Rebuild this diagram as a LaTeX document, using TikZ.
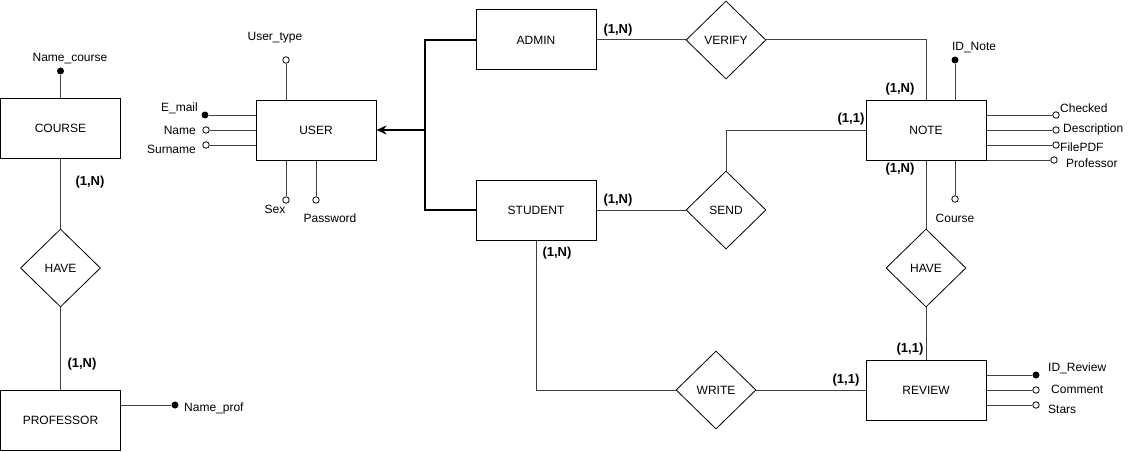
\documentclass[tikz,border=0pt]{standalone}
\usepackage{fontspec}
\setmainfont{Liberation Sans}
\usetikzlibrary{shapes.geometric,arrows.meta}
\begin{document}
\begin{tikzpicture}[x=1pt,y=-1pt,
 ent/.style={draw, line width=1pt, minimum width=120pt, minimum height=60pt, inner sep=0, font=\fontsize{12}{14}\selectfont},
 rel/.style={draw, diamond, line width=0.8pt, minimum width=80pt, minimum height=78pt, inner sep=0, font=\fontsize{12}{14}\selectfont},
 key/.style={circle, fill=black, inner sep=0, minimum size=7pt},
 att/.style={circle, draw, fill=white, line width=0.8pt, inner sep=0, minimum size=6.5pt},
 lbl/.style={font=\fontsize{12}{14}\selectfont, inner sep=0},
 card/.style={font=\bfseries\fontsize{13}{15}\selectfont, inner sep=0},
 conn/.style={line width=1pt, draw=black!75},
 isa/.style={line width=2pt}
]
\useasboundingbox (0,0) rectangle (1135,452);
% entities
\node[ent] (course) at (60.5,128) {COURSE};
\node[ent] (prof) at (60.5,420) {PROFESSOR};
\node[ent] (user) at (316,130) {USER};
\node[ent] (admin) at (536,40) {ADMIN};
\node[ent] (student) at (536,210) {STUDENT};
\node[ent] (note) at (926,130) {NOTE};
\node[ent] (review) at (926,390) {REVIEW};
% relationships
\node[rel] (have1) at (60.5,268) {HAVE};
\node[rel] (verify) at (726,40) {VERIFY};
\node[rel] (send) at (726,210) {SEND};
\node[rel] (have2) at (926,268) {HAVE};
\node[rel] (write) at (716,390) {WRITE};
% connectors
\draw[conn] (course) -- (have1);
\draw[conn] (have1) -- (prof);
\draw[conn] (admin) -- (verify);
\draw[conn] (verify.east) -| (note.north);
\draw[conn] (student) -- (send);
\draw[conn] (send.north) |- (note.west);
\draw[conn] (note) -- (have2);
\draw[conn] (have2) -- (review);
\draw[conn] (student.south) |- (write.west);
\draw[conn] (write) -- (review);
% ISA
\coordinate (isa) at (425,130);
\draw[isa] (admin.west) -| (isa) |- (student.west);
\draw[isa,-{Stealth[length=10pt,width=9pt]}] (isa) -- (user.east);
% course attributes
\node[key] (nc) at (60.5,71) {};
\draw[conn] (nc) -- (course);
\node[lbl] (lnc) at (70,59) {Name\_course};
% professor attributes
\node[key] (np) at (175,405) {};
\draw[conn] (np) -- (np -| prof.east);
\node[lbl,anchor=west] (lnp) at (184,408) {Name\_prof};
% user attributes
\node[att] (ut) at (286,60) {};
\draw[conn] (ut) -- (ut |- user.north);
\node[lbl] (lut) at (275,38) {User\_type};
\node[key] (em) at (205,115) {};
\draw[conn] (em) -- (em -| user.west);
\node[lbl,anchor=east] (lem) at (198,108) {E\_mail};
\node[att] (nm) at (206,130) {};
\draw[conn] (nm) -- (nm -| user.west);
\node[lbl,anchor=east] (lnm) at (196,130) {Name};
\node[att] (sn) at (206,145) {};
\draw[conn] (sn) -- (sn -| user.west);
\node[lbl,anchor=east] (lsn) at (196,149) {Surname};
\node[att] (sx) at (286,200) {};
\draw[conn] (sx) -- (sx |- user.south);
\node[lbl] (lsx) at (275,209) {Sex};
\node[att] (pw) at (316,200) {};
\draw[conn] (pw) -- (pw |- user.south);
\node[lbl] (lpw) at (330,218) {Password};
% note attributes
\node[key] (idn) at (955,60) {};
\draw[conn] (idn) -- (idn |- note.north);
\node[lbl] (lidn) at (974,48) {ID\_Note};
\node[att] (chk) at (1056,115) {};
\draw[conn] (chk) -- (chk -| note.east);
\node[lbl,anchor=west] (lchk) at (1060,108) {Checked};
\node[att] (desc) at (1056,130) {};
\draw[conn] (desc) -- (desc -| note.east);
\node[lbl,anchor=west] (ldesc) at (1063,129) {Description};
\node[att] (pdf) at (1056,145) {};
\draw[conn] (pdf) -- (pdf -| note.east);
\node[lbl,anchor=west] (lpdf) at (1060,147) {FilePDF};
\node[att] (npr) at (1054,160) {};
\draw[conn] (npr) -- (npr -| note.east);
\node[lbl,anchor=west] (lnpr) at (1066,163) {Professor};
\node[att] (crs) at (955,199) {};
\draw[conn] (crs) -- (crs |- note.south);
\node[lbl] (lcrs) at (955,218) {Course};
% review attributes
\node[key] (idr) at (1036,375) {};
\draw[conn] (idr) -- (idr -| review.east);
\node[lbl,anchor=west] (lidr) at (1048,368) {ID\_Review};
\node[att] (cm) at (1036,390) {};
\draw[conn] (cm) -- (cm -| review.east);
\node[lbl,anchor=west] (lcm) at (1051,389) {Comment};
\node[att] (st) at (1036,405) {};
\draw[conn] (st) -- (st -| review.east);
\node[lbl,anchor=west] (lst) at (1048,409) {Stars};
% cardinalities
\node[card] (c1) at (90,182) {(1,N)};
\node[card] (c2) at (82,364) {(1,N)};
\node[card] (c3) at (618,30) {(1,N)};
\node[card] (c4) at (618,200) {(1,N)};
\node[card] (c5) at (900,89) {(1,N)};
\node[card] (c6) at (851,119) {(1,1)};
\node[card] (c7) at (900,169) {(1,N)};
\node[card] (c8) at (557,253) {(1,N)};
\node[card] (c9) at (846,380) {(1,1)};
\node[card] (c10) at (910,349) {(1,1)};
\end{tikzpicture}
\end{document}
